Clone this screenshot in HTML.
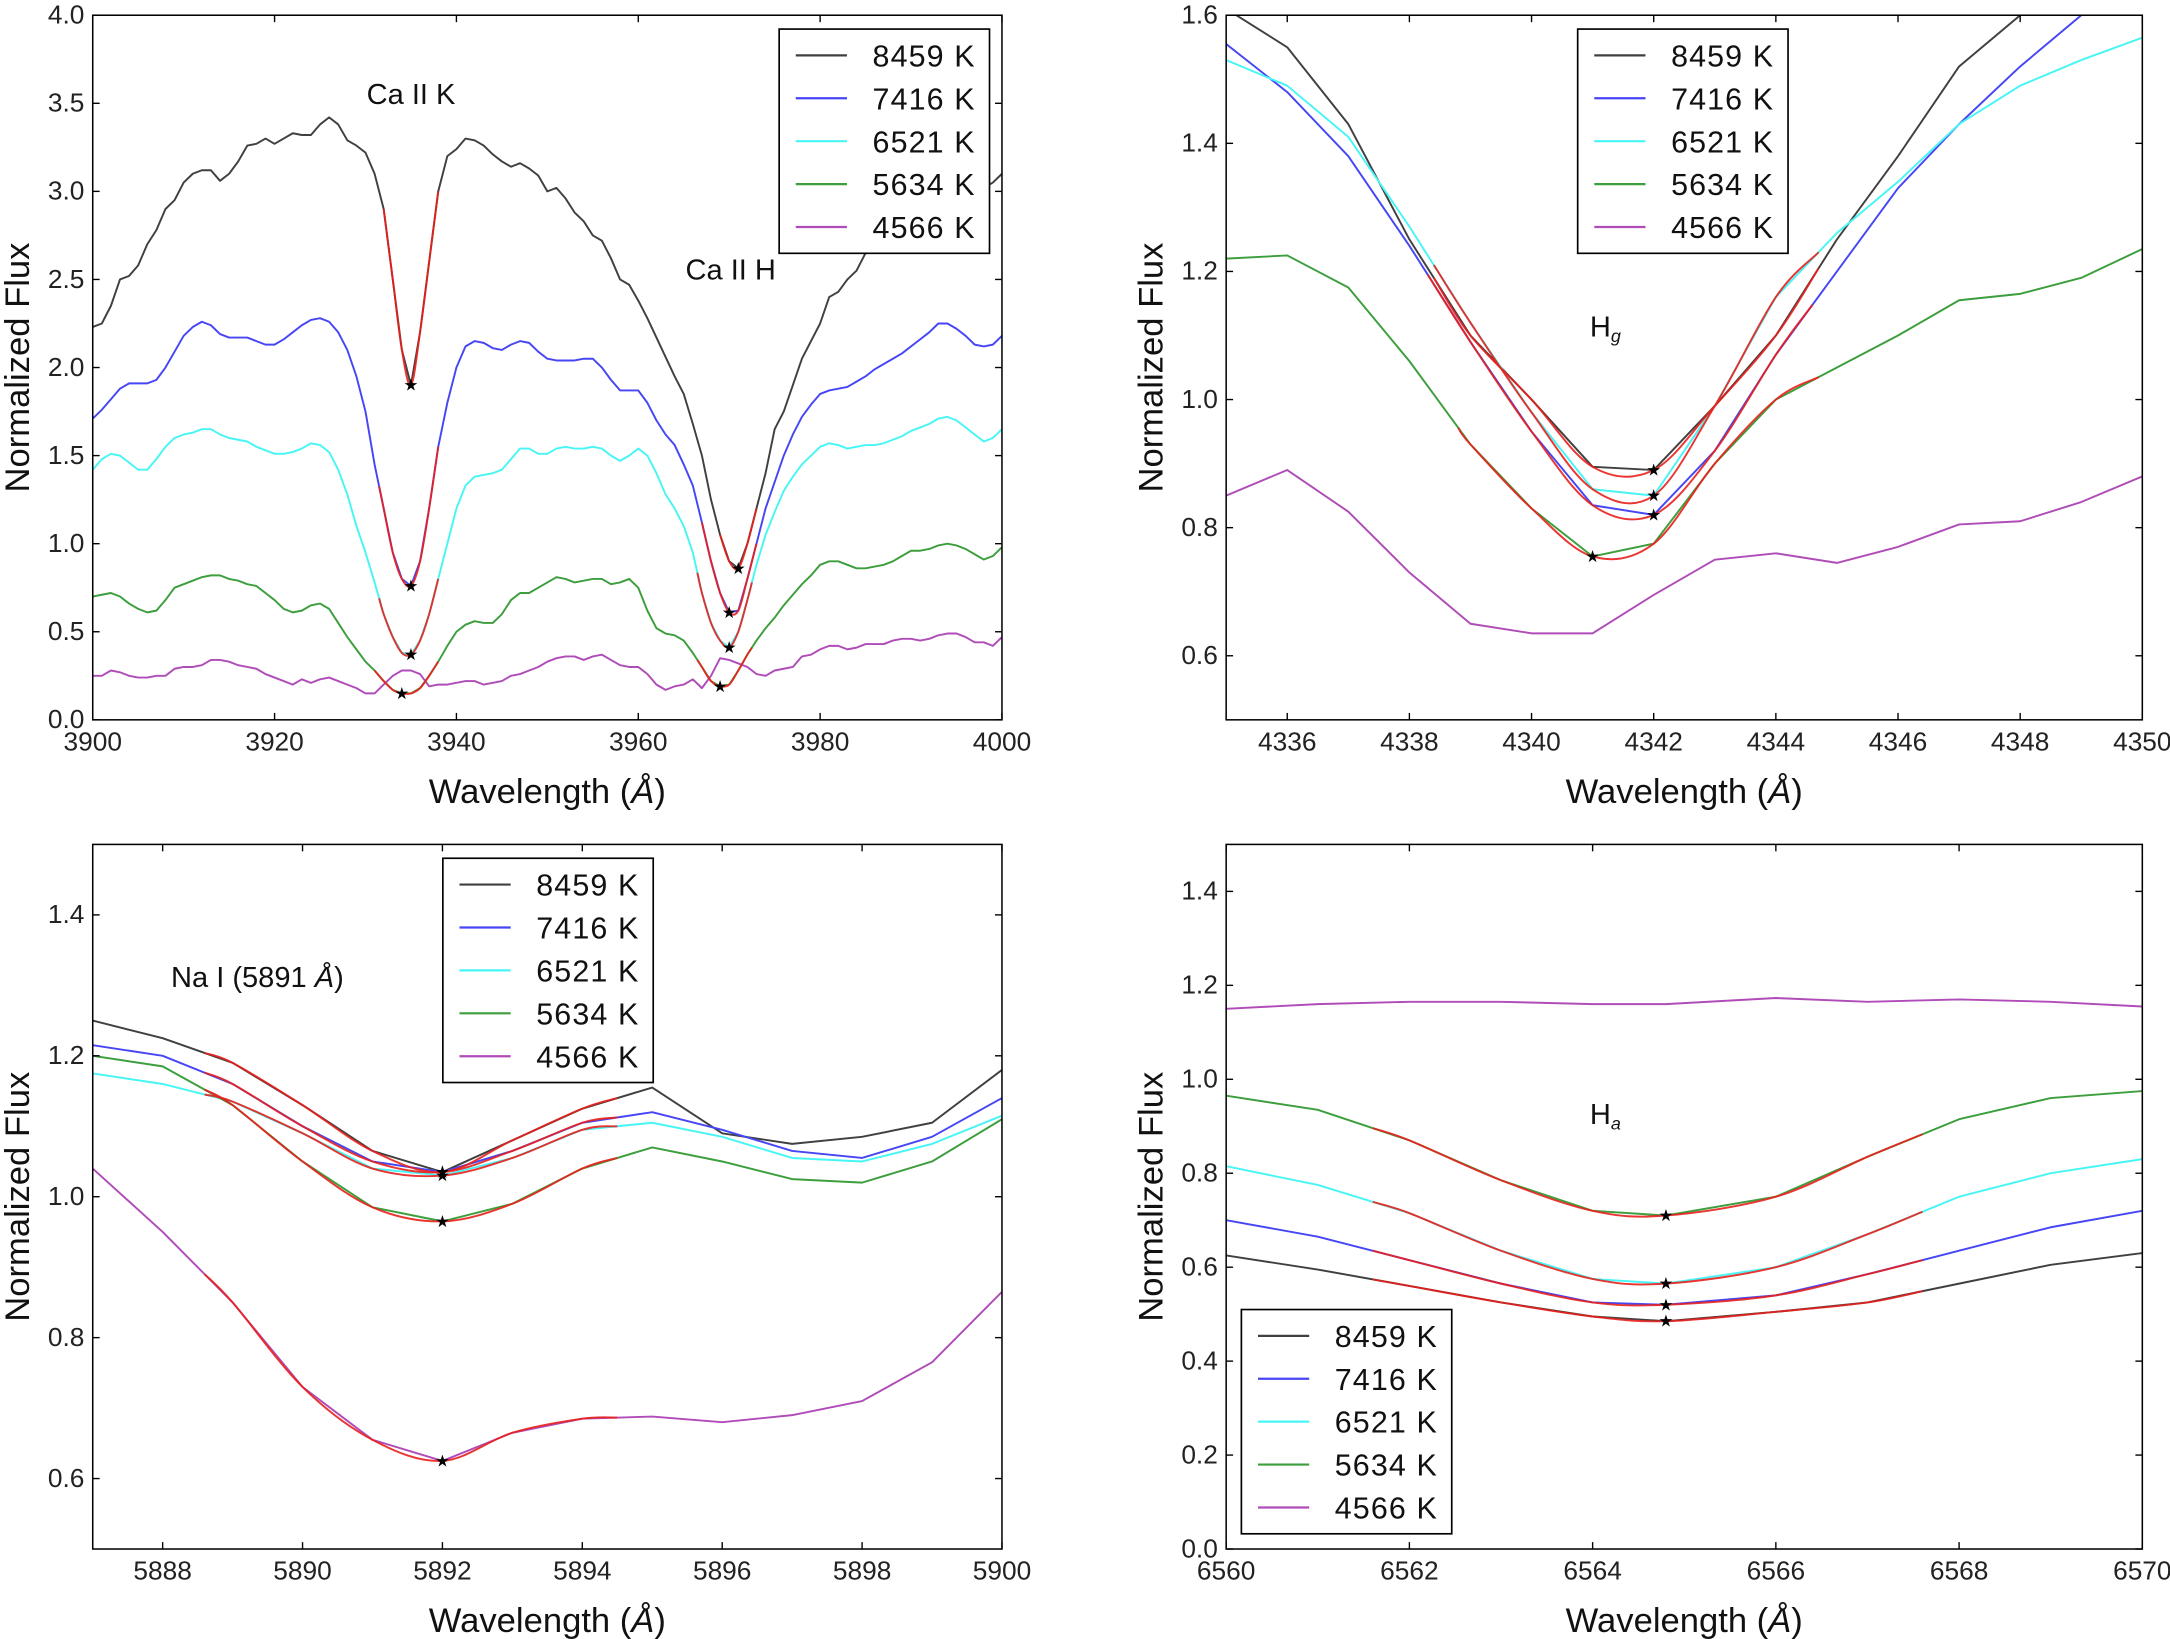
<!DOCTYPE html>
<html><head><meta charset="utf-8">
<style>
html,body{margin:0;padding:0;background:#fff;}
svg{display:block;font-family:"Liberation Sans","DejaVu Sans",sans-serif;}
</style></head>
<body>
<svg id="fig" width="2170" height="1639" viewBox="0 0 1568 1184" preserveAspectRatio="none" xmlns="http://www.w3.org/2000/svg"></svg>
<script>
// ---------- Panel 1: Ca II H & K ----------
const caX = [];
for (let w = 3900; w <= 4000; w++) caX.push(w);
const caBlack = [2.23,2.25,2.35,2.5,2.52,2.58,2.7,2.78,2.9,2.95,3.05,3.1,3.12,3.12,3.06,3.1,3.17,3.26,3.27,3.3,3.27,3.3,3.33,3.32,3.32,3.38,3.42,3.38,3.29,3.26,3.22,3.1,2.9,2.5,2.1,1.9,2.2,2.6,3.0,3.2,3.24,3.3,3.29,3.26,3.21,3.17,3.14,3.16,3.13,3.09,3.0,3.02,2.96,2.88,2.83,2.75,2.72,2.62,2.5,2.47,2.38,2.28,2.17,2.06,1.95,1.85,1.68,1.5,1.25,1.05,0.9,0.86,1.0,1.2,1.4,1.65,1.75,1.9,2.05,2.15,2.25,2.4,2.43,2.5,2.55,2.65,2.75,2.85,2.9,2.95,3.0,3.02,3.04,3.05,3.05,3.05,3.04,3.03,3.02,3.05,3.1];
const caBlue = [1.71,1.76,1.82,1.88,1.91,1.91,1.91,1.93,2.0,2.09,2.18,2.23,2.26,2.24,2.19,2.17,2.17,2.17,2.15,2.13,2.13,2.16,2.2,2.24,2.27,2.28,2.26,2.2,2.1,1.95,1.75,1.45,1.2,0.95,0.8,0.76,0.9,1.2,1.55,1.8,2.0,2.12,2.15,2.14,2.11,2.1,2.13,2.15,2.14,2.09,2.05,2.04,2.04,2.04,2.05,2.05,2.0,1.93,1.87,1.87,1.87,1.8,1.7,1.62,1.56,1.45,1.33,1.12,0.9,0.72,0.61,0.62,0.8,1.0,1.2,1.35,1.5,1.62,1.72,1.79,1.85,1.87,1.88,1.89,1.92,1.95,1.99,2.02,2.05,2.08,2.12,2.16,2.2,2.25,2.25,2.22,2.18,2.13,2.12,2.13,2.18];
const caCyan = [1.42,1.48,1.51,1.5,1.46,1.42,1.42,1.48,1.55,1.6,1.62,1.63,1.65,1.65,1.62,1.6,1.59,1.58,1.55,1.53,1.51,1.51,1.52,1.54,1.57,1.56,1.52,1.42,1.28,1.1,0.95,0.78,0.6,0.47,0.38,0.37,0.45,0.6,0.8,1.0,1.2,1.33,1.38,1.39,1.4,1.42,1.48,1.54,1.54,1.51,1.51,1.54,1.55,1.54,1.54,1.55,1.54,1.5,1.47,1.5,1.54,1.5,1.4,1.28,1.2,1.1,0.95,0.72,0.55,0.45,0.41,0.5,0.68,0.88,1.05,1.18,1.3,1.38,1.45,1.5,1.55,1.57,1.56,1.54,1.55,1.56,1.56,1.57,1.59,1.61,1.64,1.66,1.68,1.71,1.72,1.7,1.66,1.62,1.58,1.6,1.65];
const caGreen = [0.7,0.71,0.72,0.7,0.66,0.63,0.61,0.62,0.68,0.75,0.77,0.79,0.81,0.82,0.82,0.8,0.79,0.77,0.76,0.72,0.68,0.63,0.61,0.62,0.65,0.66,0.63,0.55,0.47,0.4,0.33,0.28,0.22,0.17,0.15,0.15,0.18,0.25,0.33,0.42,0.5,0.54,0.56,0.55,0.55,0.6,0.68,0.72,0.72,0.75,0.78,0.81,0.8,0.78,0.79,0.8,0.8,0.77,0.78,0.8,0.75,0.62,0.52,0.49,0.48,0.45,0.38,0.3,0.22,0.19,0.2,0.28,0.37,0.45,0.52,0.58,0.65,0.71,0.77,0.82,0.88,0.9,0.9,0.88,0.86,0.86,0.87,0.88,0.9,0.93,0.96,0.96,0.97,0.99,1.0,0.99,0.97,0.94,0.91,0.93,0.98];
const caMag = [0.25,0.25,0.28,0.27,0.25,0.24,0.24,0.25,0.25,0.29,0.3,0.3,0.31,0.34,0.34,0.33,0.31,0.3,0.29,0.26,0.24,0.22,0.2,0.23,0.21,0.23,0.24,0.22,0.2,0.18,0.15,0.15,0.2,0.25,0.28,0.28,0.26,0.19,0.2,0.2,0.21,0.22,0.22,0.2,0.21,0.22,0.25,0.26,0.28,0.3,0.33,0.35,0.36,0.36,0.34,0.36,0.37,0.34,0.31,0.3,0.3,0.26,0.2,0.17,0.19,0.2,0.23,0.18,0.25,0.35,0.34,0.32,0.3,0.26,0.25,0.28,0.29,0.3,0.36,0.37,0.4,0.42,0.42,0.4,0.41,0.43,0.43,0.43,0.45,0.46,0.46,0.45,0.46,0.48,0.49,0.49,0.47,0.44,0.44,0.42,0.47];
const caFitK = [[3932,3938],[3931.5,3938],[3931.5,3938],[3931,3938],null];
const caFitH = [[3969,3973],[3967,3973],[3966.5,3972.5],[3966.5,3972.5],null];

// ---------- Panel 2: H gamma ----------
const hgX = [4335,4336,4337,4338,4339,4340,4341,4342,4343,4344,4345,4346,4347,4348,4349,4350];
const hgBlack = [1.61,1.55,1.43,1.25,1.1,1.0,0.895,0.89,0.99,1.1,1.25,1.38,1.52,1.6,1.7,1.8];
const hgBlue = [1.555,1.48,1.38,1.24,1.09,0.95,0.835,0.82,0.92,1.07,1.2,1.33,1.43,1.52,1.6,1.65];
const hgCyan = [1.53,1.49,1.41,1.27,1.12,0.98,0.86,0.85,0.99,1.16,1.26,1.34,1.43,1.49,1.53,1.565];
const hgGreen = [1.22,1.225,1.175,1.06,0.93,0.83,0.755,0.775,0.9,1.0,1.05,1.1,1.155,1.165,1.19,1.235];
const hgMag = [0.85,0.89,0.825,0.73,0.65,0.635,0.635,0.695,0.75,0.76,0.745,0.77,0.805,0.81,0.84,0.88];
const hgFit = [[4338.4,4344.7],[4338.3,4344.6],[4338.4,4344.7],[4338.8,4344.7],null];

// ---------- Panel 3: Na I ----------
const naX = [5887,5888,5889,5890,5891,5892,5893,5894,5895,5896,5897,5898,5899,5900];
const naBlack = [1.25,1.225,1.19,1.13,1.065,1.035,1.08,1.125,1.155,1.09,1.075,1.085,1.105,1.18];
const naBlue = [1.215,1.2,1.16,1.1,1.05,1.035,1.065,1.105,1.12,1.095,1.065,1.055,1.085,1.14];
const naCyan = [1.175,1.16,1.135,1.09,1.04,1.03,1.055,1.095,1.105,1.085,1.055,1.05,1.075,1.115];
const naGreen = [1.2,1.185,1.13,1.05,0.985,0.965,0.99,1.04,1.07,1.05,1.025,1.02,1.05,1.11];
const naMag = [1.04,0.95,0.85,0.73,0.655,0.625,0.665,0.685,0.688,0.68,0.69,0.71,0.765,0.865];
const naFit = [[5888.6,5894.5],[5888.6,5894.5],[5888.6,5894.5],[5888.6,5894.5],[5888.6,5894.5]];

// ---------- Panel 4: H alpha ----------
const haX = [6560,6561,6562,6563,6564,6564.8,6566,6567,6568,6569,6570];
const haBlack = [0.625,0.595,0.56,0.525,0.495,0.485,0.505,0.525,0.565,0.605,0.63];
const haBlue = [0.70,0.665,0.615,0.565,0.525,0.52,0.54,0.585,0.635,0.685,0.72];
const haCyan = [0.815,0.775,0.715,0.635,0.575,0.565,0.6,0.67,0.75,0.8,0.83];
const haGreen = [0.965,0.935,0.87,0.785,0.72,0.71,0.75,0.835,0.915,0.96,0.975];
const haMag = [1.15,1.16,1.165,1.165,1.16,1.16,1.173,1.165,1.17,1.165,1.155];
const haFit = [[6561.6,6567.6],[6561.6,6567.6],[6561.6,6567.6],[6561.6,6567.6],null];

const legendLabels = ["8459 K","7416 K","6521 K","5634 K","4566 K"];
const seriesColors = ["#404040","#4646f5","#48f5f5","#3c9e3c","#b04cb8"];

const NS = "http://www.w3.org/2000/svg";
const fig = document.getElementById('fig');
function mk(tag, attrs, parent){
  const e = document.createElementNS(NS, tag);
  for (const k in attrs) e.setAttribute(k, attrs[k]);
  (parent||fig).appendChild(e);
  return e;
}
function interp(xs, ys, x){
  for (let i=0;i<xs.length-1;i++){
    if (x>=xs[i] && x<=xs[i+1]){
      const t=(x-xs[i])/(xs[i+1]-xs[i]);
      return ys[i]+(ys[i+1]-ys[i])*t;
    }
  }
  return ys[ys.length-1];
}

function panel(cfg){
  const g = mk('g', {});
  
  
  const {L,R,T,B,xmin,xmax,ymin,ymax} = cfg;
  const sx = v => L + (v - xmin) / (xmax - xmin) * (R - L);
  const sy = v => B - (v - ymin) / (ymax - ymin) * (B - T);
  const cid = 'clip-' + cfg.name;
  const cp = mk('clipPath', {id: cid}, g);
  mk('rect', {x:L, y:T, width:R-L, height:B-T}, cp);
  const plot = mk('g', {'clip-path':'url(#'+cid+')'}, g);
  
  
  cfg.series.forEach((ys, i) => {
    const d = cfg.x.map((xv, j) => (j?'L':'M') + sx(xv).toFixed(2) + ' ' + sy(ys[j]).toFixed(2)).join(' ');
    const p = mk('path', {d, fill:'none', stroke:seriesColors[i], 'stroke-width':1.4, 'stroke-linejoin':'round'}, plot);
    
    
  });
  const stars = [];
  cfg.fits.forEach(fitset => {
    fitset.forEach((rng, i) => {
      if (!rng) return;
      const ys = cfg.series[i];
      const pts = [];
      pts.push([rng[0], interp(cfg.x, ys, rng[0])]);
      cfg.x.forEach((xv, j) => { if (xv > rng[0] && xv < rng[1]) pts.push([xv, ys[j]]); });
      pts.push([rng[1], interp(cfg.x, ys, rng[1])]);
      let d = 'M' + sx(pts[0][0]) + ' ' + sy(pts[0][1]);
      for (let k=0;k<pts.length-1;k++){
        const p0=pts[Math.max(0,k-1)], p1=pts[k], p2=pts[k+1], p3=pts[Math.min(pts.length-1,k+2)];
        const c1x=sx(p1[0])+(sx(p2[0])-sx(p0[0]))/6, c1y=sy(p1[1])+(sy(p2[1])-sy(p0[1]))/6;
        const c2x=sx(p2[0])-(sx(p3[0])-sx(p1[0]))/6, c2y=sy(p2[1])-(sy(p3[1])-sy(p1[1]))/6;
        d += ` C${c1x.toFixed(2)} ${c1y.toFixed(2)} ${c2x.toFixed(2)} ${c2y.toFixed(2)} ${sx(p2[0]).toFixed(2)} ${sy(p2[1]).toFixed(2)}`;
      }
      const fp = mk('path', {d, fill:'none', stroke:'#e8201c', 'stroke-width':1.4, opacity:0.9}, plot);
      
      
      let mi = 0; for (let k=1;k<pts.length;k++) if (pts[k][1] < pts[mi][1]) mi = k;
      stars.push(pts[mi]);
    });
  });
  stars.forEach(s => {
    const st = mk('text', {x:sx(s[0]), y:sy(s[1])+4, 'font-size':12, 'text-anchor':'middle', fill:'#000'}, plot);
    st.textContent = '★';
    
    
  });
  const fr = mk('rect', {x:L, y:T, width:R-L, height:B-T, fill:'none', stroke:'#000', 'stroke-width':1.1}, g);
  
  
  cfg.xticks.forEach(v => {
    const X = sx(v);
    mk('line', {x1:X, x2:X, y1:B, y2:B-5, stroke:'#000', 'stroke-width':1}, g);
    mk('line', {x1:X, x2:X, y1:T, y2:T+5, stroke:'#000', 'stroke-width':1}, g);
    const t = mk('text', {x:X, y:B+22, 'font-size':19, 'text-anchor':'middle', fill:'#222'}, g);
    t.textContent = String(v);
    
    
  });
  cfg.yticks.forEach(v => {
    const Y = sy(v);
    mk('line', {x1:L, x2:L+5, y1:Y, y2:Y, stroke:'#000', 'stroke-width':1}, g);
    mk('line', {x1:R, x2:R-5, y1:Y, y2:Y, stroke:'#000', 'stroke-width':1}, g);
    const t = mk('text', {x:L-6, y:Y+6, 'font-size':19, 'text-anchor':'end', fill:'#222'}, g);
    t.textContent = v.toFixed(1);
    
    
  });
  const xt = mk('text', {x:(L+R)/2, y:B+60, 'font-size':25, 'text-anchor':'middle', fill:'#111'}, g);
  xt.innerHTML = 'Wavelength (<tspan font-style="italic">Å</tspan>)';
  
  
  const yx = L - 46, yy = (T+B)/2;
  const yt = mk('text', {x:yx, y:yy, 'font-size':25, 'text-anchor':'middle', fill:'#111', transform:`rotate(-90 ${yx} ${yy})`}, g);
  yt.textContent = 'Normalized Flux';
  
  
  cfg.notes.forEach(n => {
    const t = mk('text', {x:n[0], y:n[1], 'font-size':21, 'text-anchor':'middle', fill:'#111'}, g);
    t.innerHTML = n[2];
    
    
  });
  const [lx, ly] = cfg.legend;
  const lg = mk('g', {}, g);
  
  
  mk('rect', {x:lx, y:ly, width:152, height:162, fill:'#fff', stroke:'#000', 'stroke-width':1.2}, lg);
  legendLabels.forEach((lab, i) => {
    const ey = ly + 19 + i * 31;
    const e = mk('g', {}, lg);
    
    
    mk('line', {x1:lx+12, x2:lx+49, y1:ey, y2:ey, stroke:seriesColors[i], 'stroke-width':1.6}, e);
    const t = mk('text', {x:lx+142, y:ey+8, 'font-size':22, 'letter-spacing':'0.8', 'text-anchor':'end', fill:'#111'}, e);
    t.textContent = lab;
  });
}

panel({name:'ca-hk-panel', L:67, R:724, T:11, B:520, xmin:3900, xmax:4000, ymin:0, ymax:4,
  x:caX, series:[caBlack,caBlue,caCyan,caGreen,caMag], fits:[caFitK, caFitH],
  xticks:[3900,3920,3940,3960,3980,4000], yticks:[0,0.5,1,1.5,2,2.5,3,3.5,4],
  notes:[[297,75,'Ca II K'],[528,202,'Ca II H']], legend:[563,21]});
panel({name:'h-gamma-panel', L:886, R:1548, T:11, B:520, xmin:4335, xmax:4350, ymin:0.5, ymax:1.6,
  x:hgX, series:[hgBlack,hgBlue,hgCyan,hgGreen,hgMag], fits:[hgFit],
  xticks:[4336,4338,4340,4342,4344,4346,4348,4350], yticks:[0.6,0.8,1.0,1.2,1.4,1.6],
  notes:[[1160,243,'H<tspan font-size="13" font-style="italic" dy="4">g</tspan>']], legend:[1140,21]});
panel({name:'na-i-panel', L:67, R:724, T:610, B:1119, xmin:5887, xmax:5900, ymin:0.5, ymax:1.5,
  x:naX, series:[naBlack,naBlue,naCyan,naGreen,naMag], fits:[naFit],
  xticks:[5888,5890,5892,5894,5896,5898,5900], yticks:[0.6,0.8,1.0,1.2,1.4],
  notes:[[186,713,'Na I (5891 <tspan font-style="italic">Å</tspan>)']], legend:[320,620]});
panel({name:'h-alpha-panel', L:886, R:1548, T:610, B:1119, xmin:6560, xmax:6570, ymin:0, ymax:1.5,
  x:haX, series:[haBlack,haBlue,haCyan,haGreen,haMag], fits:[haFit],
  xticks:[6560,6562,6564,6566,6568,6570], yticks:[0,0.2,0.4,0.6,0.8,1.0,1.2,1.4],
  notes:[[1160,812,'H<tspan font-size="13" font-style="italic" dy="4">a</tspan>']], legend:[897,946]});
</script>
</body></html>
